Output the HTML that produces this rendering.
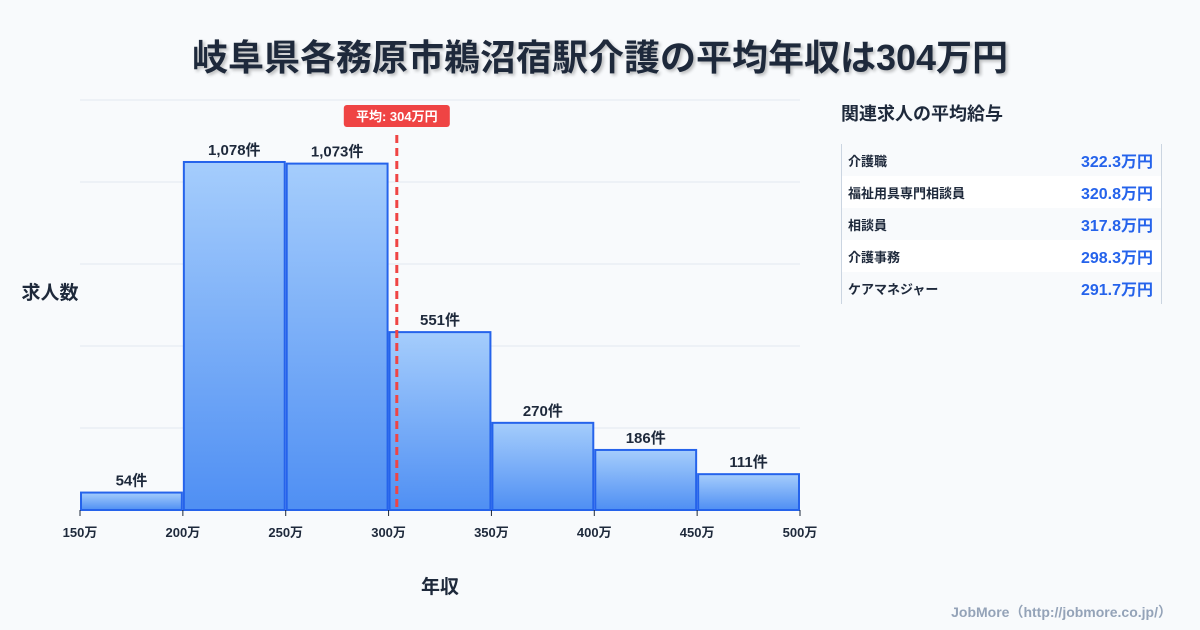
<!DOCTYPE html>
<html><head><meta charset="utf-8">
<style>
body{margin:0;width:1200px;height:630px;background:#f8fafc;font-family:"Liberation Sans","Noto Sans CJK JP",sans-serif;overflow:hidden;position:relative}
.title{position:absolute;left:0;width:1200px;top:29px;text-align:center;font-size:36px;font-weight:bold;color:#1e293b;text-shadow:2px 2px 3px rgba(0,0,0,0.25)}
.side{position:absolute;left:841px;top:100px;width:320px}
.side h3{margin:0;font-size:18px;font-weight:bold;color:#1e293b;height:44px}
.tbl{border-left:1px solid #cbd5e1;border-right:1px solid #cbd5e1;position:absolute;top:44px;left:0;width:319px;height:160px}
.row{height:32px;display:flex;justify-content:space-between;align-items:center;padding:0 8px 0 6px}
.row:nth-child(even){background:#fff}
.row .n{font-size:13px;font-weight:bold;color:#1e293b}
.row .v{font-size:16px;font-weight:bold;color:#2563eb}
.foot{position:absolute;right:28px;top:602px;font-size:14px;font-weight:bold;color:#94a3b8}
</style></head><body>
<div class="title">岐阜県各務原市鵜沼宿駅介護の平均年収は304万円</div>
<svg id="chart" width="1200" height="630" style="position:absolute;left:0;top:0">
<defs><linearGradient id="g" x1="0" y1="0" x2="0" y2="1"><stop offset="0" stop-color="#a5cdfc"/><stop offset="1" stop-color="#4f8ff3"/></linearGradient></defs>
</svg>
<div class="side">
<h3>関連求人の平均給与</h3>
<div class="tbl">
<div class="row"><span class="n">介護職</span><span class="v">322.3万円</span></div>
<div class="row"><span class="n">福祉用具専門相談員</span><span class="v">320.8万円</span></div>
<div class="row"><span class="n">相談員</span><span class="v">317.8万円</span></div>
<div class="row"><span class="n">介護事務</span><span class="v">298.3万円</span></div>
<div class="row"><span class="n">ケアマネジャー</span><span class="v">291.7万円</span></div>
</div></div>
<div class="foot">JobMore（http://jobmore.co.jp/）</div>
<script>
const binStarts=[150,200,250,300,350,400,450];
const counts=[54,1078,1073,551,270,186,111];
const countLabels=["54件","1,078件","1,073件","551件","270件","186件","111件"];
const xTicks=[150,200,250,300,350,400,450,500];
const meanValue=304;
const binWidth=50;
const X0=80,X1=800,Y0=510,Y1=100,XMIN=150,XMAX=500,YMAX=1270;
const sx=v=>X0+(v-XMIN)/(XMAX-XMIN)*(X1-X0);
const sy=v=>Y0-v/YMAX*(Y0-Y1);
const svg=document.getElementById('chart');
const NS='http://www.w3.org/2000/svg';
function mk(t,a,txt){const e=document.createElementNS(NS,t);for(const k in a)e.setAttribute(k,a[k]);if(txt!=null)e.textContent=txt;svg.appendChild(e);return e;}
for(let i=0;i<5;i++){const y=Y1+i*(Y0-Y1)/5;
const g=mk('line',{x1:X0,x2:X1,y1:y,y2:y,stroke:'#e2e8f0','stroke-width':1});

}
binStarts.forEach((b,i)=>{const x=sx(b)+1,w=sx(b+binWidth)-sx(b)-2,y=sy(counts[i]);
const r=mk('rect',{x:x,y:y,width:w,height:Y0-y,fill:'url(#g)',stroke:'#2563eb','stroke-width':2});


const t=mk('text',{x:x+w/2,y:y-7,'text-anchor':'middle','font-size':15,'font-weight':'bold',fill:'#1e293b'},countLabels[i]);

});
xTicks.forEach(v=>{const x=sx(v);
mk('line',{x1:x,x2:x,y1:Y0,y2:Y0+6,stroke:'#1e293b','stroke-width':1});
const t=mk('text',{x:x,y:Y0+27,'text-anchor':'middle','font-size':13,'font-weight':'bold',fill:'#1e293b'},v+'万');

});
const mx=sx(meanValue);
const ml=mk('line',{x1:mx,x2:mx,y1:135,y2:Y0,stroke:'#ef4444','stroke-width':3,'stroke-dasharray':'8,5'});


const mb=mk('rect',{x:mx-53,y:105,width:106,height:22,rx:3,fill:'#ef4444'});


const mt=mk('text',{x:mx,y:121,'text-anchor':'middle','font-size':13,'font-weight':'bold',fill:'#fff'},'平均: '+meanValue+'万円');


const yt=mk('text',{x:50,y:299,'text-anchor':'middle','font-size':19,'font-weight':'bold',fill:'#1e293b'},'求人数');


const xt=mk('text',{x:440,y:593,'text-anchor':'middle','font-size':19,'font-weight':'bold',fill:'#1e293b'},'年収');


</script>
</body></html>
